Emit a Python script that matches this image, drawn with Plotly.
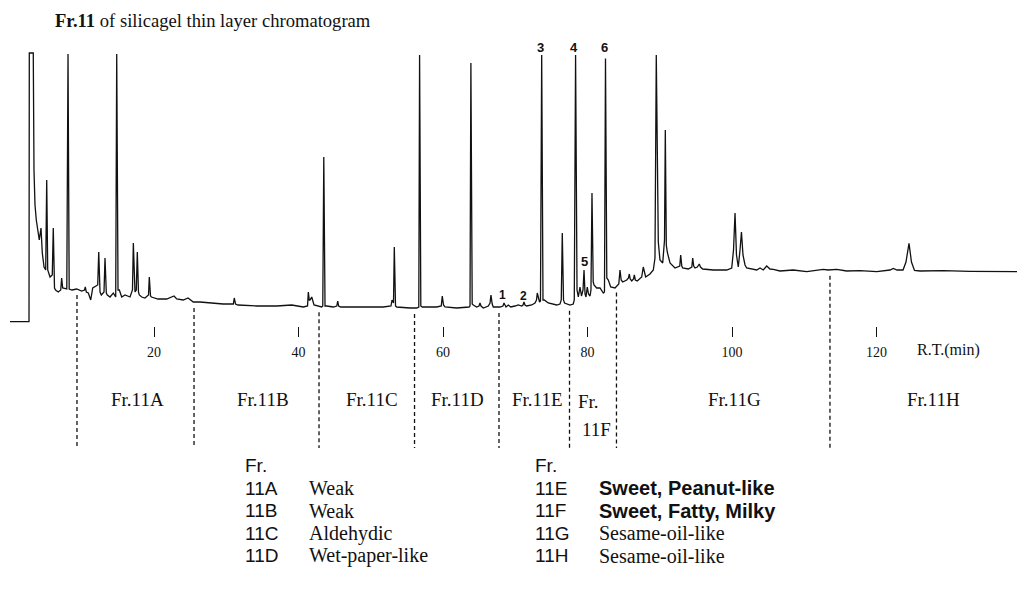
import numpy as np
import plotly.graph_objects as go

# ---------------- data: chromatogram trace (retention time in min, detector signal, arb. units)
rt_a = [0.07, 2.70, 2.74, 3.29, 3.39, 3.53, 3.71, 3.94, 4.12, 4.36,
        4.54, 4.78, 5.01, 5.15, 5.29, 5.61, 5.92, 6.06, 6.23, 6.37,
        6.75, 7.09, 7.22, 7.36, 7.93, 8.10, 8.26, 8.65, 9.30, 9.99,
        10.38, 10.49, 10.63, 10.91, 11.24, 11.52, 11.83, 12.21, 12.35, 12.53,
        12.71, 12.90, 13.08, 13.22, 13.40, 13.54, 13.91, 14.37, 14.70, 14.84,
        15.02, 15.20, 15.53, 15.99, 16.68, 17.02, 17.14, 17.37, 17.55, 17.69,
        17.85, 17.97, 18.30, 18.75, 19.24, 19.35, 19.52, 19.65, 20.14, 20.55,
        21.76, 22.77, 23.14, 24.05, 24.71, 25.44, 26.37]
sig_a = [0, 0, 268.7, 268.7, 151.7, 116.7, 101.7, 89.7, 81.7, 93.7,
         68.7, 54.7, 51.7, 141.7, 51.7, 44.7, 46.7, 93.7, 33.7, 31.7,
         29.7, 31.7, 43.7, 33.7, 32.7, 267.7, 32.7, 31.7, 32.7, 30.7,
         31.7, 34.7, 29.7, 28.7, 21.7, 33.7, 34.7, 36.7, 69.7, 29.7,
         26.7, 28.7, 29.7, 63.7, 28.7, 26.7, 24.7, 28.7, 24.7, 267.7,
         31.7, 31.7, 24.7, 26.7, 24.7, 31.7, 78.7, 29.7, 31.7, 69.7,
         29.7, 26.7, 24.7, 23.7, 26.7, 44.7, 25.7, 24.7, 23.7, 22.7,
         22.7, 25.7, 22.7, 21.7, 23.7, 19.7, 19.7]

rt_b = [27.75, 29.55, 30.98, 31.11, 31.28, 31.63, 34.21, 36.98, 39.06, 40.66,
        41.25, 41.36, 41.49, 41.59, 41.83, 42.15, 43.21, 43.36, 43.50, 43.67,
        43.90, 44.82, 45.30, 45.43, 45.56, 45.84, 48.06, 49.90, 51.74, 52.80,
        52.94, 53.15, 53.26, 53.43, 53.59]
sig_b = [18.7, 17.7, 17.7, 23.7, 17.7, 16.7, 15.7, 15.7, 16.7, 14.7,
         15.7, 29.7, 21.7, 21.7, 24.7, 16.7, 14.7, 15.7, 164.7, 15.7,
         15.7, 14.7, 15.7, 20.7, 15.7, 14.7, 14.7, 14.7, 14.7, 15.7,
         21.7, 18.7, 74.7, 15.7, 14.7]

rt_c = [55.43, 56.36, 56.65, 56.76, 56.93, 57.13, 58.20, 59.13, 59.76, 59.90,
        60.07, 60.28, 61.90, 63.60, 63.74, 63.86, 64.04, 64.19, 64.66, 64.98,
        65.12, 65.26, 65.58, 66.27, 66.51, 66.64, 66.81, 66.96, 67.89, 68.30,
        68.44, 68.58, 68.72, 69.04, 69.37, 69.97, 70.42, 70.89, 71.07, 71.21,
        71.35, 71.58, 72.28, 72.73, 72.94, 73.05, 73.22, 73.36, 73.49, 73.66,
        73.84, 74.02, 74.57, 75.74, 76.19, 76.37, 76.51, 76.68, 76.82, 77.58,
        78.03, 78.17, 78.35, 78.55, 78.73]
sig_c = [13.7, 13.7, 14.7, 266.7, 15.7, 14.7, 14.7, 14.7, 15.7, 25.7,
         16.7, 14.7, 13.7, 14.7, 15.7, 258.7, 17.7, 16.7, 14.7, 15.7,
         18.7, 15.7, 13.7, 15.7, 18.7, 26.7, 17.7, 14.7, 14.7, 15.7,
         18.7, 15.7, 14.7, 16.7, 14.7, 15.7, 16.7, 15.7, 16.7, 19.7,
         16.7, 15.7, 16.7, 18.7, 21.7, 28.7, 21.7, 19.7, 20.7, 266.7,
         21.7, 21.7, 18.7, 16.7, 17.7, 21.7, 88.7, 21.7, 18.7, 16.7,
         17.7, 21.7, 266.7, 31.7, 24.7]

rt_d = [78.96, 79.17, 79.38, 79.52, 79.66, 79.79, 79.97, 80.14, 80.35, 80.48,
        80.62, 80.79, 80.90, 81.27, 81.73, 82.19, 82.35, 82.49, 82.67, 82.88,
        83.21, 83.81, 84.33, 84.50, 84.66, 84.87, 85.43, 85.67, 85.79, 85.91,
        86.12, 86.37, 86.48, 86.62, 86.89, 87.50, 87.72, 88.05, 88.65, 89.11,
        89.34, 89.52, 89.69, 89.80, 90.03, 90.41, 90.66, 90.77, 90.91, 91.04,
        91.42, 92.11, 92.77, 92.90, 93.05, 93.17, 93.95, 94.44, 94.56, 94.70,
        94.88, 95.20, 95.47, 95.64, 95.94, 97.41, 99.27, 99.96, 100.21, 100.42,
        100.62, 100.87, 101.11, 101.31, 101.52, 101.80, 102.03, 103.42, 103.88, 104.33,
        104.80, 105.26, 105.72, 106.64, 108.48, 110.34, 112.64, 113.29, 114.49, 115.87,
        117.72, 120.03, 121.87, 122.32, 122.84, 123.67, 124.08, 124.50, 124.84, 125.26,
        126.02, 129.24, 132.94, 137.51, 139.45]
sig_d = [34.7, 25.7, 31.7, 51.7, 27.7, 24.7, 34.7, 27.7, 25.7, 31.7,
         128.7, 39.7, 36.7, 33.7, 33.7, 28.7, 29.7, 263.2, 43.7, 41.7,
         34.7, 33.7, 37.7, 51.7, 41.7, 39.7, 41.7, 43.7, 47.7, 42.7,
         40.7, 42.7, 46.7, 41.7, 40.7, 44.7, 54.7, 44.7, 47.7, 51.7,
         63.7, 266.7, 86.7, 79.7, 61.7, 58.7, 81.7, 191.7, 76.7, 69.7,
         58.7, 53.7, 55.7, 66.7, 55.7, 53.7, 52.7, 54.7, 63.7, 55.7,
         53.7, 54.7, 57.7, 54.7, 52.7, 51.7, 51.7, 53.7, 71.7, 108.7,
         66.7, 54.7, 71.7, 89.7, 66.7, 56.7, 53.7, 51.7, 53.7, 51.7,
         55.7, 52.7, 52.4, 50.7, 51.7, 50.0, 52.4, 51.7, 52.4, 50.7,
         51.0, 50.0, 51.7, 53.2, 51.7, 51.7, 59.7, 78.4, 59.7, 51.2,
         50.7, 51.0, 50.4, 50.0, 50.0]

# numbered peaks
peak_numbers = ["1", "2", "3", "4", "5", "6"]
peak_rt = [68.30, 71.21, 73.52, 78.13, 79.52, 82.42]
peak_sig = [26.7, 25.7, 273.7, 273.7, 60.7, 273.7]

# fraction cut points (min) and fraction names
fraction_cuts = [9.34, 25.54, 42.84, 56.06, 67.75, 77.51, 84.01, 113.56]
fraction_names = ["Fr.11A", "Fr.11B", "Fr.11C", "Fr.11D", "Fr.11E", "Fr.11G", "Fr.11H"]
fraction_centers = [17.65, 35.09, 50.17, 61.94, 73.01, 100.28, 127.82]

tick_values = [20, 40, 60, 80, 100, 120]

# odour descriptions
codes_left = ["11A", "11B", "11C", "11D"]
odour_left = ["Weak", "Weak", "Aldehydic", "Wet-paper-like"]
codes_right = ["11E", "11F", "11G", "11H"]
odour_right = ["Sweet, Peanut-like", "Sweet, Fatty, Milky", "Sesame-oil-like", "Sesame-oil-like"]
odour_right_bold = [True, True, False, False]

rt = np.array(rt_a + rt_b + rt_c + rt_d)
sig = np.array(sig_a + sig_b + sig_c + sig_d)

# ---------------- layout geometry
W, H = 1019, 611
ML, MR, MT, MB = 9, 2, 50, 285
PW, PH = W - ML - MR, H - MT - MB
Y0, Y1 = -4.3, 271.7


def pxx(px):
    return (px - ML) / PW


def pxy(py):
    return (H - MB - py) / PH


def sig_to_paper(v):
    return (v - Y0) / (Y1 - Y0)


SERIF = "Liberation Serif, Times New Roman, serif"
SANS = "Liberation Sans, Arial, Helvetica, sans-serif"
INK = "#111111"

fig = go.Figure()
fig.add_trace(go.Scatter(x=rt, y=sig, mode="lines",
                         line=dict(color=INK, width=1.3),
                         hoverinfo="x+y", showlegend=False))

shapes = []
for c in fraction_cuts:
    top = float(np.interp(c, rt, sig)) - 6
    shapes.append(dict(type="line", xref="x", yref="paper", x0=c, x1=c,
                       y0=sig_to_paper(top), y1=pxy(448),
                       line=dict(color=INK, width=1.3, dash="4px,3px")))

ann = []
# title
ann.append(dict(xref="paper", yref="paper", x=pxx(53), y=pxy(21), xanchor="left", yanchor="middle",
                text="<b>Fr.11</b> of silicagel thin layer chromatogram", showarrow=False,
                font=dict(family=SERIF, size=18.6, color=INK)))
# peak numbers
for n, x, y in zip(peak_numbers, peak_rt, peak_sig):
    ann.append(dict(xref="x", yref="paper", x=x, y=sig_to_paper(y), text="<b>" + n + "</b>",
                    showarrow=False, xanchor="center", yanchor="middle",
                    font=dict(family=SANS, size=13 if n in "3456" else 12, color=INK)))
# fraction names
for name, x in zip(fraction_names, fraction_centers):
    ann.append(dict(xref="x", yref="paper", x=x, y=pxy(399), text=name, showarrow=False,
                    xanchor="center", yanchor="middle",
                    font=dict(family=SERIF, size=19, color=INK)))
ann.append(dict(xref="x", yref="paper", x=80.14, y=pxy(401), text="Fr.", showarrow=False,
                xanchor="center", yanchor="middle", font=dict(family=SERIF, size=19, color=INK)))
ann.append(dict(xref="x", yref="paper", x=81.18, y=pxy(429), text="11F", showarrow=False,
                xanchor="center", yanchor="middle", font=dict(family=SERIF, size=19, color=INK)))
# axis title
ann.append(dict(xref="x", yref="paper", x=129.9, y=pxy(350), text="R.T.(min)", showarrow=False,
                xanchor="center", yanchor="middle", font=dict(family=SERIF, size=16, color=INK)))

# odour table
row_y = [488, 510.5, 533, 555.5]
CODE_SIZE, DESC_SIZE = 19, 20
for col_x, desc_x, codes, descs, bolds in [
        (243, 307, codes_left, odour_left, [False] * 4),
        (533, 597, codes_right, odour_right, odour_right_bold)]:
    ann.append(dict(xref="paper", yref="paper", x=pxx(col_x), y=pxy(465), text="Fr.",
                    showarrow=False, xanchor="left", yanchor="middle",
                    font=dict(family=SANS, size=CODE_SIZE, color=INK)))
    for yy, code, desc, b in zip(row_y, codes, descs, bolds):
        ann.append(dict(xref="paper", yref="paper", x=pxx(col_x), y=pxy(yy), text=code,
                        showarrow=False, xanchor="left", yanchor="middle",
                        font=dict(family=SANS, size=CODE_SIZE, color=INK)))
        ann.append(dict(xref="paper", yref="paper", x=pxx(desc_x), y=pxy(yy),
                        text=("<b>" + desc + "</b>") if b else desc,
                        showarrow=False, xanchor="left", yanchor="middle",
                        font=dict(family=SANS if b else SERIF, size=DESC_SIZE, color=INK)))

fig.update_layout(
    width=W, height=H,
    margin=dict(l=ML, r=MR, t=MT, b=MB),
    paper_bgcolor="white", plot_bgcolor="white",
    showlegend=False,
    shapes=shapes, annotations=ann,
    xaxis=dict(range=[(ML - 9.5) / 7.225, (W - MR - 9.5) / 7.225],
               tickmode="array", tickvals=tick_values, ticktext=[str(t) for t in tick_values],
               ticks="outside", ticklen=10, tickwidth=1, tickcolor=INK,
               showline=False, showgrid=False, zeroline=False,
               ticklabelstandoff=3,
               tickfont=dict(family=SERIF, size=14, color=INK)),
    yaxis=dict(range=[Y0, Y1], visible=False, showgrid=False, zeroline=False),
)

fig.write_html("out.html", config={"displayModeBar": False},
               post_script="document.body.style.margin='0';")
